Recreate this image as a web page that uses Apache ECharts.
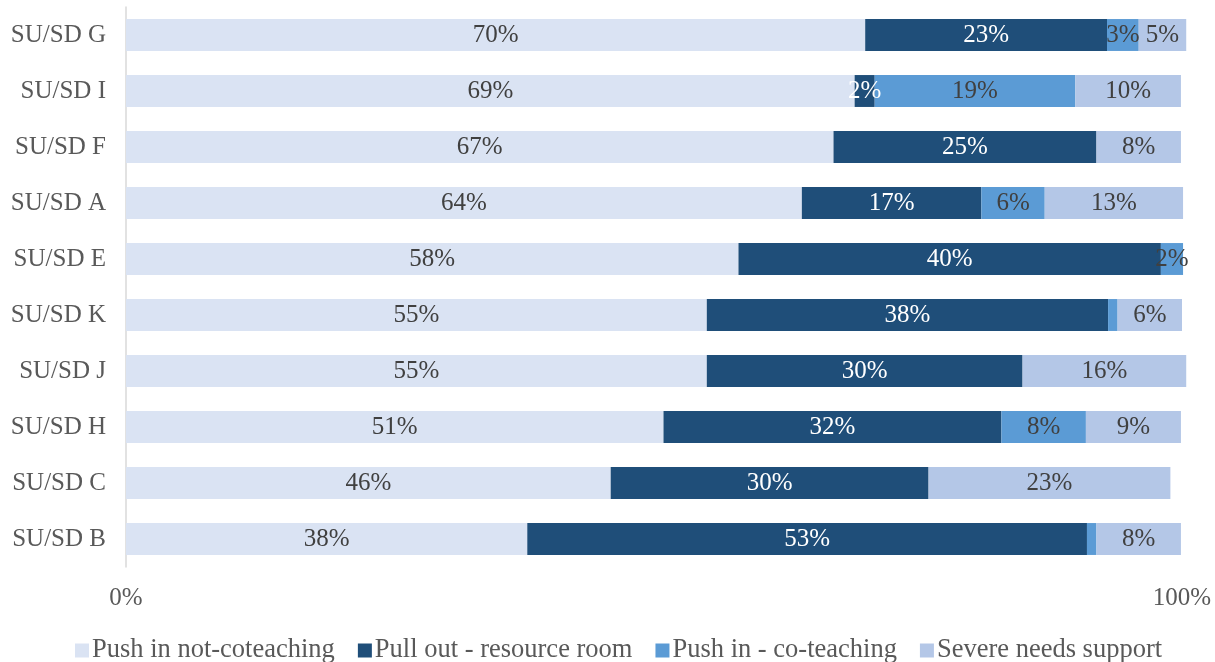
<!DOCTYPE html>
<html>
<head>
<meta charset="utf-8">
<script src="https://cdn.jsdelivr.net/npm/echarts@6/dist/echarts.min.js"></script>
<style>
html,body{margin:0;padding:0;background:#fff;}
#c{width:1215px;height:662px;}
</style>
</head>
<body>
<div id="c"></div>
<script>
var categories = ['SU/SD G','SU/SD I','SU/SD F','SU/SD A','SU/SD E','SU/SD K','SU/SD J','SU/SD H','SU/SD C','SU/SD B'];
var seriesNames = ['Push in not-coteaching','Pull out - resource room','Push in - co-teaching','Severe needs support'];
var pushInNotCoteaching = [70, 69, 67, 64, 58, 55, 55, 50.9, 45.9, 38];
var pullOutResourceRoom = [22.9, 1.9, 24.9, 17, 40, 38, 29.9, 32, 30.1, 53];
var pushInCoTeaching = [3, 19, 0, 6, 2.1, 0.9, 0, 8, 0, 0.9];
var severeNeedsSupport = [4.5, 10, 8, 13.1, 0, 6.1, 15.5, 9, 22.9, 8];
var xTicks = ['0%', '100%'];

var FONT = '"Liberation Serif", serif';
var colors = ['#DAE3F3', '#1F4E79', '#5B9BD5', '#B4C7E7'];
var labelColors = ['#404040', '#ffffff', '#404040', '#404040'];
var values = [pushInNotCoteaching, pullOutResourceRoom, pushInCoTeaching, severeNeedsSupport];

var chart = echarts.init(document.getElementById('c'));
chart.setOption({
  animation: false,
  grid: {left: 126, right: 33, top: 7, bottom: 95, containLabel: false},
  legend: {
    top: 632, left: 70,
    itemWidth: 14, itemHeight: 14, itemGap: 23,
    icon: 'rect',
    textStyle: {fontFamily: FONT, fontSize: 26.5, color: '#595959', padding: [0,0,0,-2]},
    data: seriesNames
  },
  xAxis: {
    type: 'value', min: 0, max: 100, interval: 100,
    axisLine: {show: false}, axisTick: {show: false}, splitLine: {show: false},
    axisLabel: {
      margin: 19, fontFamily: FONT, fontSize: 25, color: '#595959',
      formatter: function (v) { return v === 0 ? xTicks[0] : xTicks[1]; }
    }
  },
  yAxis: {
    type: 'category', data: categories, inverse: true,
    axisLine: {show: true, lineStyle: {color: '#D9D9D9', width: 1.5}},
    axisTick: {show: false},
    axisLabel: {margin: 20, fontFamily: FONT, fontSize: 25, color: '#595959'}
  },
  series: seriesNames.map(function (name, i) {
    return {
      name: name, type: 'bar', stack: 'total', data: values[i],
      barCategoryGap: '43%', clip: false,
      itemStyle: {color: colors[i]},
      label: {
        show: true, position: 'inside', fontFamily: FONT, fontSize: 25,
        color: labelColors[i],
        formatter: function (p) { return p.value >= 1.5 ? Math.round(p.value) + '%' : ''; }
      }
    };
  })
});
</script>
</body>
</html>
